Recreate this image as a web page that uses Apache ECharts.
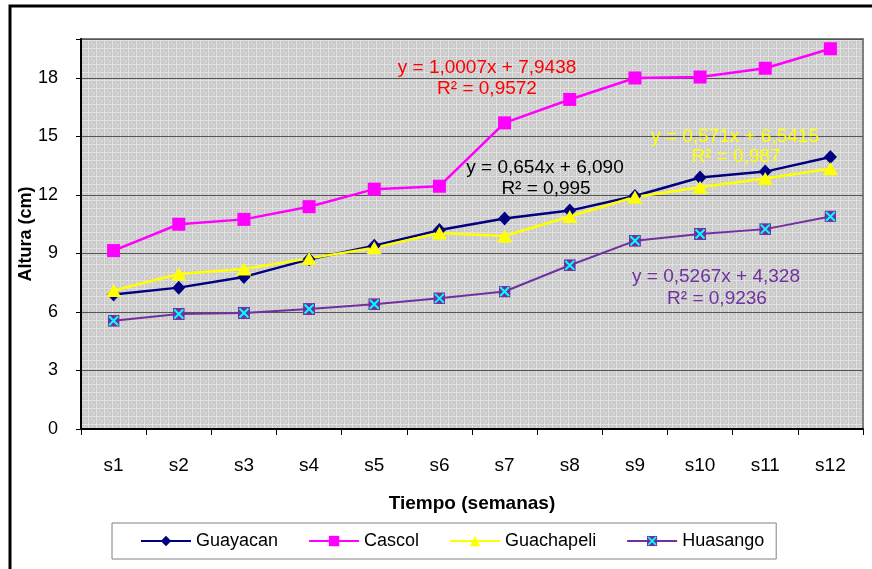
<!DOCTYPE html>
<html>
<head>
<meta charset="utf-8">
<script src="https://cdn.jsdelivr.net/npm/echarts@6/dist/echarts.min.js"></script>
<style>
html,body{margin:0;padding:0;background:#fff;}
#c{width:872px;height:569px;}
</style>
</head>
<body>
<div id="c"></div>
<script>
var categories = ['s1','s2','s3','s4','s5','s6','s7','s8','s9','s10','s11','s12'];
var guayacan   = [6.9, 7.25, 7.8, 8.7, 9.4, 10.2, 10.8, 11.2, 11.95, 12.9, 13.2, 13.95];
var cascol     = [9.15, 10.5, 10.75, 11.4, 12.3, 12.45, 15.7, 16.9, 18.0, 18.05, 18.5, 19.5];
var guachapeli = [7.1, 7.95, 8.2, 8.75, 9.3, 10.05, 9.9, 10.9, 11.9, 12.4, 12.85, 13.35];
var huasango   = [5.55, 5.9, 5.95, 6.15, 6.4, 6.7, 7.05, 8.4, 9.65, 10.0, 10.25, 10.9];
var seriesNames = ['Guayacan','Cascol','Guachapeli','Huasango'];
var equations = [
  ['y = 0,654x + 6,090', 'R² = 0,995'],
  ['y = 1,0007x + 7,9438', 'R² = 0,9572'],
  ['y = 0,571x + 6,5415', 'R² = 0,987'],
  ['y = 0,5267x + 4,328', 'R² = 0,9236']
];

// background pattern like Excel hatch fill
var pc = document.createElement('canvas');
pc.width = 8; pc.height = 8;
var px = pc.getContext('2d');
px.fillStyle = '#CACACA'; px.fillRect(0,0,8,8);
px.fillStyle = '#E2E2E2';
px.fillRect(0,0,8,1); px.fillRect(0,0,1,8);
px.fillRect(4,2,1,1); px.fillRect(2,4,1,1); px.fillRect(6,4,1,1); px.fillRect(4,6,1,1);
px.fillRect(3,3,1,1); px.fillRect(5,5,1,1);

var xsvg = "<svg xmlns='http://www.w3.org/2000/svg' width='24' height='24'><rect width='24' height='24' fill='#7030A0'/><path d='M3,3L21,21M21,3L3,21' stroke='#00FFFF' stroke-width='4'/></svg>";
var xSymbol = 'image://data:image/svg+xml;charset=utf-8,' + encodeURIComponent(xsvg);

var chart = echarts.init(document.getElementById('c'), null, {renderer:'canvas'});
var font = 'Arial, "Liberation Sans", sans-serif';
var eqFont = '19px ' + font;

function eqText(x, y, txt, col) {
  return {type: 'text', x: x, y: y, z: 50,
    style: {text: txt, fill: col, font: eqFont, textAlign: 'center', textVerticalAlign: 'middle'}};
}

var option = {
  animation: false,
  backgroundColor: '#ffffff',
  textStyle: {fontFamily: font},
  grid: {
    left: 81, right: 9, top: 39, bottom: 140,
    show: true,
    backgroundColor: {image: pc, repeat: 'repeat'},
    borderColor: '#808080', borderWidth: 2
  },
  xAxis: {
    type: 'category',
    data: categories,
    boundaryGap: true,
    name: 'Tiempo (semanas)',
    nameLocation: 'middle',
    nameGap: 65,
    nameTextStyle: {fontSize: 19, fontWeight: 'bold', color: '#000', fontFamily: font},
    axisLine: {lineStyle: {color: '#000', width: 2}},
    axisTick: {show: true, length: 6, lineStyle: {color: '#000'}},
    axisLabel: {fontSize: 19, color: '#000', margin: 27, fontFamily: font},
    splitLine: {show: false}
  },
  yAxis: {
    type: 'value',
    min: 0, max: 20, interval: 3,
    name: 'Altura (cm)',
    nameLocation: 'middle',
    nameGap: 46,
    nameMoveOverlap: false,
    nameTextStyle: {fontSize: 18, fontWeight: 'bold', color: '#000', fontFamily: font},
    axisLine: {show: true, lineStyle: {color: '#000', width: 2}},
    axisTick: {show: true, length: 5, lineStyle: {color: '#000'}},
    axisLabel: {fontSize: 18, color: '#000', margin: 23, fontFamily: font,
      formatter: function(v){ return v > 18 ? '' : String(v); }},
    splitLine: {show: true, lineStyle: {color: '#555555', width: 1}}
  },
  legend: {
    left: 112, top: 523,
    padding: [9, 12, 9, 28],
    itemGap: 30,
    itemWidth: 50, itemHeight: 13,
    borderColor: '#808080', borderWidth: 1,
    backgroundColor: '#ffffff',
    textStyle: {fontSize: 18, color: '#000', fontFamily: font},
    data: seriesNames
  },
  series: [
    {name: seriesNames[0], type: 'line', data: guayacan, symbol: 'diamond', symbolSize: [13,14],
     itemStyle: {color: '#000080'}, lineStyle: {color: '#000080', width: 2.5}},
    {name: seriesNames[1], type: 'line', data: cascol, symbol: 'rect', symbolSize: 13,
     itemStyle: {color: '#FF00FF'}, lineStyle: {color: '#FF00FF', width: 2.5}},
    {name: seriesNames[2], type: 'line', data: guachapeli, symbol: 'triangle', symbolSize: [15,13],
     itemStyle: {color: '#FFFF00'}, lineStyle: {color: '#FFFF00', width: 2.5}},
    {name: seriesNames[3], type: 'line', data: huasango, symbol: xSymbol, symbolSize: 12,
     itemStyle: {color: '#7030A0'}, lineStyle: {color: '#7030A0', width: 2}}
  ],
  graphic: [
    {type: 'rect', shape: {x: 10, y: 6, width: 900, height: 600}, style: {fill: 'none', stroke: '#000', lineWidth: 3}, silent: true, z: 100},
    eqText(487, 68, equations[1][0], '#FF0000'),
    eqText(487, 89, equations[1][1], '#FF0000'),
    eqText(545, 168, equations[0][0], '#000000'),
    eqText(546, 189, equations[0][1], '#000000'),
    eqText(735, 137, equations[2][0], '#FFFF00'),
    eqText(736, 157, equations[2][1], '#FFFF00'),
    eqText(716, 277, equations[3][0], '#7030A0'),
    eqText(717, 299, equations[3][1], '#7030A0')
  ]
};
chart.setOption(option);
</script>
</body>
</html>
